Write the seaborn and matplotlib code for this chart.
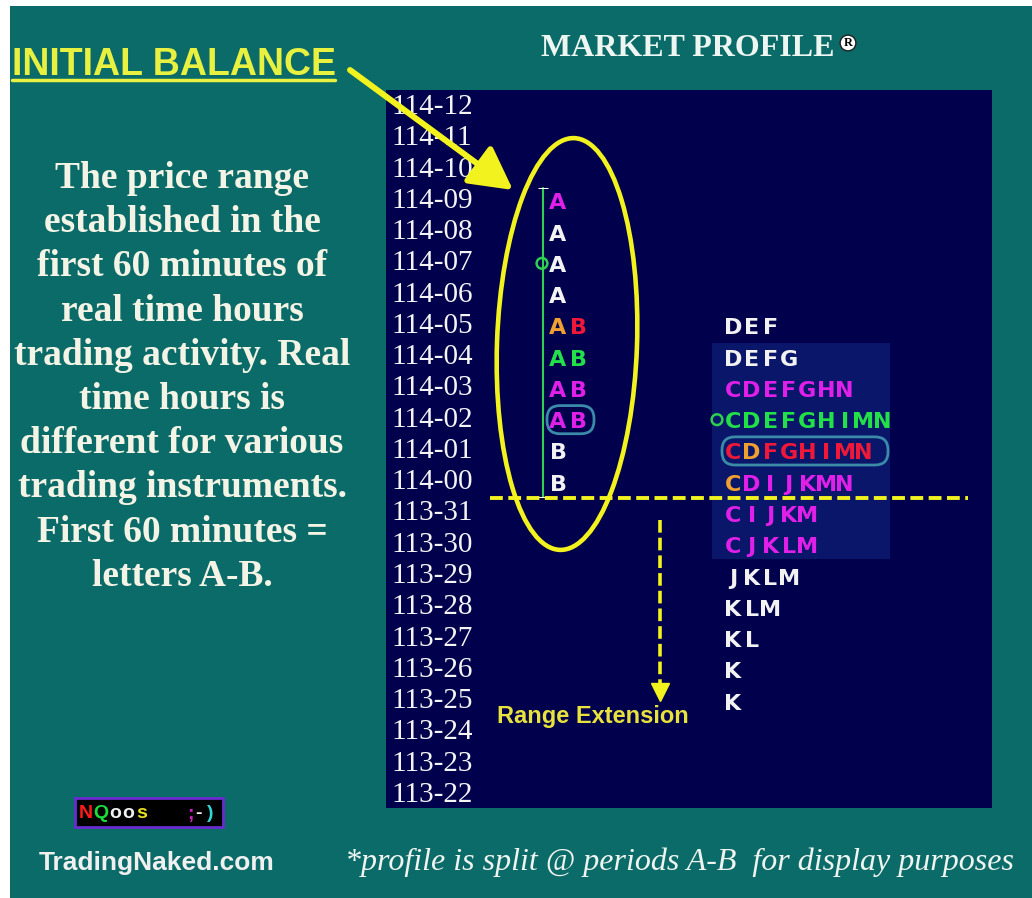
import matplotlib
matplotlib.use("Agg")
import matplotlib.pyplot as plt
from matplotlib.patches import Ellipse, FancyBboxPatch, Rectangle
import pandas as pd
import seaborn as sns

sns.set_theme(style="white")
plt.rcParams["font.family"] = ["DejaVu Sans"]

# price ladder, top to bottom
prices = ["114-12", "114-11", "114-10", "114-09", "114-08", "114-07", "114-06",
          "114-05", "114-04", "114-03", "114-02", "114-01", "114-00",
          "113-31", "113-30", "113-29", "113-28", "113-27", "113-26",
          "113-25", "113-24", "113-23", "113-22"]

# initial balance (periods A-B)
ib_prices = ["114-09", "114-08", "114-07", "114-06", "114-05",
             "114-04", "114-03", "114-02", "114-01", "114-00"]
ib_letters = ["A", "A", "A", "A", "AB", "AB", "AB", "AB", "B", "B"]
ib_colors = ["m", "w", "w", "w", "or", "gg", "mm", "mm", "w", "w"]

# rest of the session (periods C-N)
rest_prices = ["114-05", "114-04", "114-03", "114-02", "114-01", "114-00",
               "113-31", "113-30", "113-29", "113-28", "113-27", "113-26", "113-25"]
rest_letters = ["DEF", "DEFG", "CDEFGHN", "CDEFGHIMN", "CDFGHIMN", "CDIJKMN",
                "CIJKM", "CJKLM", "JKLM", "KLM", "KL", "K", "K"]
rest_colors = ["www", "wwww", "mmmmmmm", "ggggggggg", "rorrrrrr", "ommmmmm",
               "mmmmm", "mmmmm", "wwww", "www", "ww", "w", "w"]

open_price = "114-07"
close_price = "114-02"
value_area = ["114-04", "113-30"]
circled = ["114-02", "114-01"]   # circled rows: IB column, rest column

text_lines = ["The price range", "established in the", "first 60 minutes of",
              "real time hours", "trading activity. Real", "time hours is",
              "different for various", "trading instruments.",
              "First 60 minutes =", "letters A-B."]

TEAL = "#0b6b68"
NAVY = "#00004c"
VA = "#0a166a"
YELLOW = "#f2f21e"
LETTER = {"w": "#f2f2f2", "m": "#e020e8", "g": "#22e048",
          "r": "#f01838", "o": "#f0a030"}
GREEN = "#2ed050"

row = {p: i for i, p in enumerate(prices)}
ROW_PX = 31.27

fig = plt.figure(figsize=(10.32, 8.98), dpi=100, facecolor="white")
fig.add_artist(Rectangle((10 / 1032, 0), 1022 / 1032, 892 / 898,
                         transform=fig.transFigure, fc=TEAL, ec="none", zorder=0))

# profile panel: x in pixels from the panel edge, y in price rows
ax = fig.add_axes([386 / 1032, 1 - 808 / 898, 606 / 1032, 718 / 898])
ax.set_facecolor(NAVY)
ax.set_xlim(0, 606)
ax.set_ylim(22.42, -0.544)
ax.set_xticks([])
ax.set_yticks([])
for s in ax.spines.values():
    s.set_visible(False)

for i, p in enumerate(prices):
    ax.text(5, i, p, ha="left", va="center", fontfamily="Liberation Serif",
            fontsize=21, color="#f4f4f4")

# value area shading
va_top, va_bot = row[value_area[0]], row[value_area[1]]
ax.add_patch(Rectangle((326, va_top - 0.45), 178, va_bot - va_top + 0.9,
                       fc=VA, ec="none", zorder=1))


def draw_letters(price_list, letter_list, color_list, x0, dx):
    for p, letters, cols in zip(price_list, letter_list, color_list):
        for k, (ch, c) in enumerate(zip(letters, cols)):
            ax.text(x0 + k * dx, row[p] + 0.08, ch, ha="center", va="center",
                    fontsize=16, fontweight="bold", color=LETTER[c], zorder=3)


draw_letters(ib_prices, ib_letters, ib_colors, 172, 20)
draw_letters(rest_prices, rest_letters, rest_colors, 347, 18.6)

# initial balance range bar
ib_bar = pd.DataFrame({"x": [157, 157],
                       "y": [row[ib_prices[0]] - 0.4, row[ib_prices[-1]] + 0.47]})
sns.lineplot(data=ib_bar, x="x", y="y", estimator=None, sort=False,
             color=GREEN, lw=1.5, marker="_", markersize=7, ax=ax)

# open / close markers
oc = pd.DataFrame({"x": [156, 331], "y": [row[open_price], row[close_price]]})
sns.scatterplot(data=oc, x="x", y="y", marker="o", s=60, facecolors="none",
                edgecolor=GREEN, linewidth=1.8, ax=ax, zorder=4)

# circled rows
for x0, w, p in [(161, 47, circled[0]), (336, 166, circled[1])]:
    ax.add_patch(FancyBboxPatch((x0, row[p] - 0.45), w, 0.9,
                                boxstyle="round,pad=0,rounding_size=13",
                                mutation_aspect=1 / ROW_PX,
                                fc="none", ec="#3a8aa8", lw=2, zorder=2))

# IB low break line and range extension arrow
ib_low = row[ib_prices[-1]] + 0.5
ax.plot([104, 582], [ib_low, ib_low], color=YELLOW, lw=2.8,
        linestyle=(0, (3.3, 1.4)), zorder=2)
ax.plot([274, 274], [ib_low + 0.7, 18.5], color=YELLOW, lw=2.6,
        linestyle=(0, (3.5, 1.4)), zorder=2)
ax.plot([274], [18.72], marker="v", markersize=13, color=YELLOW, zorder=2)
ax.text(111, 19.5, "Range Extension", ha="left", va="center",
        fontfamily="Liberation Sans", fontweight="bold", fontsize=17,
        color="#e8e23c")

ax.set_xlabel("")
ax.set_ylabel("")

# overlay in figure pixels for the annotations
ov = fig.add_axes([0, 0, 1, 1])
ov.set_xlim(0, 1032)
ov.set_ylim(898, 0)
ov.axis("off")

ov.text(12, 75, "INITIAL BALANCE", ha="left", va="baseline",
        fontfamily="Liberation Sans", fontweight="bold", fontsize=27,
        color="#e8f040")
ov.plot([12, 335], [80, 80], color="#e8f040", lw=2.5)
ov.annotate("", xy=(513, 190), xytext=(350, 70),
            arrowprops=dict(arrowstyle="-|>,head_length=1.3,head_width=0.7",
                            mutation_scale=20, lw=4.3, color=YELLOW,
                            shrinkA=0, shrinkB=0))
ov.add_patch(Ellipse((567, 344), 140, 412, angle=2, fill=False,
                     ec=YELLOW, lw=3.3))

ov.text(541, 56, "MARKET PROFILE", ha="left", va="baseline",
        fontfamily="Liberation Serif", fontweight="bold", fontsize=23,
        color="#eef6f2")
ov.text(848, 43, "R", ha="center", va="center", fontfamily="Liberation Serif",
        fontweight="bold", fontsize=9, color="black",
        bbox=dict(boxstyle="circle,pad=0.15", fc="white", ec="#202020", lw=1))

for i, line in enumerate(text_lines):
    ov.text(182, 188 + 44.2 * i, line, ha="center", va="baseline",
            fontfamily="Liberation Serif", fontweight="bold", fontsize=27,
            color="#f4f4e6")

# little logo
ov.add_patch(Rectangle((75, 798), 148, 29, fc="black", ec="#6a2ad0", lw=2))
logo = [("N", 86, "#ff1a1a"), ("Q", 101, "#1adc3a"), ("o", 115.5, "#f0f0f0"),
        ("o", 128.5, "#f0f0f0"), ("s", 141.5, "#e8e020"), (";", 190.5, "#d020c0"),
        ("-", 199, "#f0f0f0"), (")", 210.5, "#30d8d8")]
for ch, x, c in logo:
    ov.text(x, 814, ch, ha="center", va="center", fontfamily="Liberation Sans",
            fontweight="bold", fontsize=14, color=c)

ov.text(157, 870, "TradingNaked.com", ha="center", va="baseline",
        fontfamily="Liberation Sans", fontweight="bold", fontsize=19,
        color="#f0f0f0")
ov.text(345, 870, "*profile is split @ periods A-B  for display purposes",
        ha="left", va="baseline", fontfamily="Liberation Serif",
        style="italic", fontsize=23, color="#f0f4f0")

fig.savefig("out.png", dpi=100, facecolor=fig.get_facecolor())
